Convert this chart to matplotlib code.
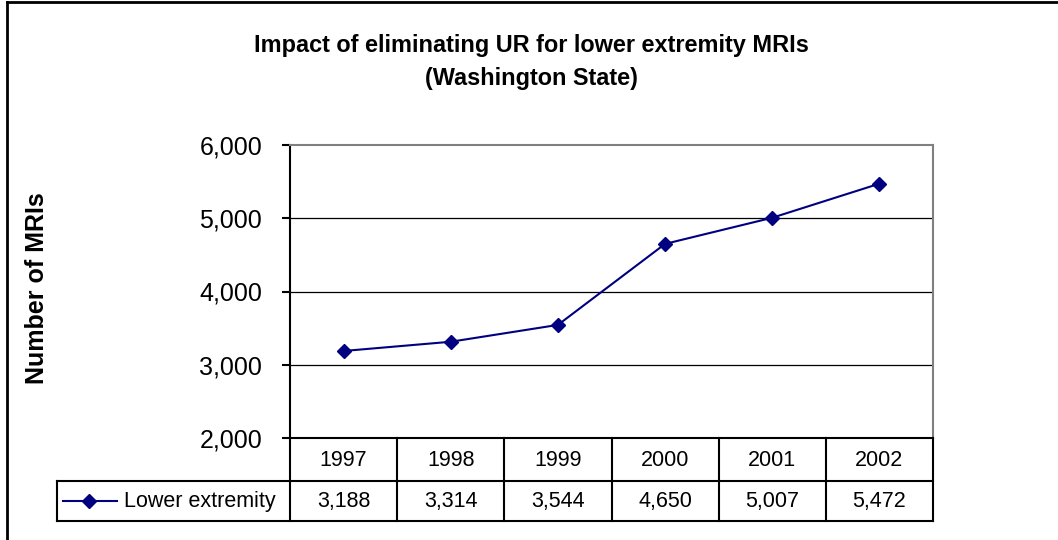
import matplotlib
matplotlib.use("Agg")
import matplotlib.pyplot as plt
from matplotlib.lines import Line2D
from matplotlib.ticker import FuncFormatter

plt.rcParams['font.family'] = ['Liberation Sans', 'DejaVu Sans']

years = ['1997', '1998', '1999', '2000', '2001', '2002']
lower_extremity = [3188, 3314, 3544, 4650, 5007, 5472]
series_name = 'Lower extremity'
title = 'Impact of eliminating UR for lower extremity MRIs\n(Washington State)'
ylabel = 'Number of MRIs'
yticks = [2000, 3000, 4000, 5000, 6000]

W, H = 1058, 540
fig = plt.figure(figsize=(W / 100, H / 100), dpi=100)

def fx(px):
    return px / W

def fy(py):
    return 1 - py / H

# outer frame (top and left visible)
fig.add_artist(Line2D([fx(7), fx(7)], [fy(2), fy(545)], transform=fig.transFigure, color='black', lw=2))
fig.add_artist(Line2D([fx(7), fx(1065)], [fy(2), fy(2)], transform=fig.transFigure, color='black', lw=2))

L, R, T, B = 290, 933, 145, 438
ax = fig.add_axes([fx(L), fy(B), fx(R - L), (B - T) / H])
x = list(range(len(years)))
ax.plot(x, lower_extremity, color='#000080', lw=1.5, marker='D', markersize=7.5, zorder=3)
ax.set_xlim(-0.5, len(years) - 0.5)
ax.set_ylim(2000, 6000)
ax.set_yticks(yticks)
ax.yaxis.set_major_formatter(FuncFormatter(lambda v, p: f'{int(v):,}'))
ax.set_xticks([])
ax.tick_params(axis='y', direction='out', length=6, width=1.5, labelsize=18, pad=14)
for v in yticks[1:-1]:
    ax.axhline(v, color='black', lw=0.9, zorder=1)
ax.spines['top'].set_color('#808080')
ax.spines['right'].set_color('#808080')
ax.spines['top'].set_linewidth(1.5)
ax.spines['right'].set_linewidth(1.5)
ax.spines['left'].set_linewidth(1.5)
ax.spines['bottom'].set_linewidth(1.5)

fig.text(fx(531), fy(62), title, ha='center', va='center', fontsize=16.9,
         fontweight='bold', linespacing=1.55)
fig.text(fx(37), fy(288), ylabel, ha='center', va='center', rotation=90,
         fontsize=18, fontweight='bold')

# data table
row1_top, row1_bot, row2_bot = 438, 481, 521
leg_left = 57
colw = (R - L) / len(years)
lw_t = 1.5
def hline(x0, x1, y):
    fig.add_artist(Line2D([fx(x0), fx(x1)], [fy(y), fy(y)], transform=fig.transFigure, color='black', lw=lw_t))
def vline(xp, y0, y1):
    fig.add_artist(Line2D([fx(xp), fx(xp)], [fy(y0), fy(y1)], transform=fig.transFigure, color='black', lw=lw_t))

hline(leg_left, R, row1_bot)
hline(leg_left, R, row2_bot)
vline(leg_left, row1_bot, row2_bot)
for i in range(len(years) + 1):
    xp = L + i * colw
    vline(xp, row1_top, row2_bot)
for i, (yr, val) in enumerate(zip(years, lower_extremity)):
    cx = L + (i + 0.5) * colw
    fig.text(fx(cx), fy((row1_top + row1_bot) / 2 + 1), yr, ha='center', va='center', fontsize=15.5)
    fig.text(fx(cx), fy((row1_bot + row2_bot) / 2 + 1), f'{val:,}', ha='center', va='center', fontsize=15.5)

# legend key in table
ly = fy((row1_bot + row2_bot) / 2)
fig.add_artist(Line2D([fx(63), fx(117)], [ly, ly], transform=fig.transFigure, color='#000080', lw=1.5))
fig.add_artist(Line2D([fx(89)], [ly], transform=fig.transFigure, color='#000080', marker='D', markersize=7.5))
fig.text(fx(124), fy((row1_bot + row2_bot) / 2 + 1), series_name, ha='left', va='center', fontsize=15.5)

fig.savefig('out.png', dpi=100, facecolor='white')
